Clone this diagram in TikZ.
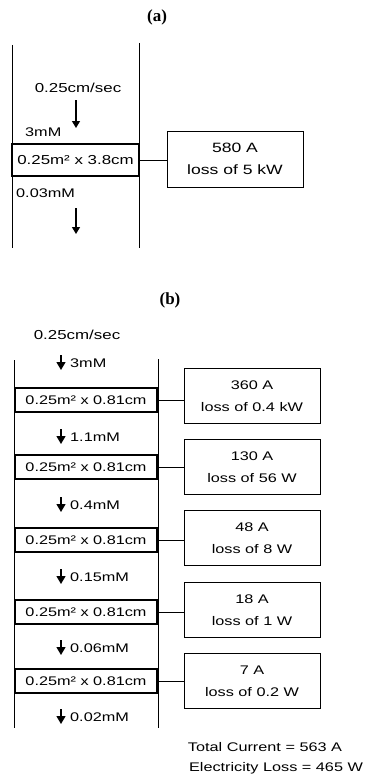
\documentclass[tikz,border=0pt]{standalone}
\usepackage{fontspec}
\setmainfont{Liberation Sans}[FakeStretch=1.3]
\newfontfamily\panelfont{Liberation Serif}
\usetikzlibrary{arrows.meta, positioning}
\newcommand{\diagfont}{\fontsize{12.5}{22}\selectfont}
\tikzset{
	wall/.style={line width=1pt},
	cell/.style={rectangle, draw=black, line width=1.7pt, minimum width=142pt, minimum height=24pt, inner sep=0pt, text centered, font=\diagfont},
	cellwide/.style={cell, minimum width=127pt, minimum height=32pt, font=\fontsize{13}{22}\selectfont},
	lossbox/.style={rectangle, draw=black, line width=1pt, minimum width=136pt, minimum height=55pt, inner sep=0pt, align=center, font=\diagfont},
	lossboxwide/.style={lossbox, minimum height=56pt, font=\fontsize{13.5}{22}\selectfont},
	link/.style={line width=1pt},
	flow/.style={-{Triangle[length=7pt, width=8pt]}, line width=1.2pt},
	flowshort/.style={-{Triangle[length=8pt, width=9pt]}, line width=1.3pt},
	conc/.style={anchor=west, inner sep=0pt, font=\diagfont},
	speed/.style={inner sep=0pt, font=\fontsize{13}{15}\selectfont},
	panel/.style={inner sep=0pt, font=\fontsize{17}{19}\selectfont\panelfont\bfseries},
	total/.style={inner sep=0pt, font=\fontsize{12.5}{15}\selectfont},
}
\begin{document}
\begin{tikzpicture}[x=1pt, y=-1pt]
	\useasboundingbox (0,0) rectangle (369,776);
	% (a) one thick cell
	\node[panel] (titleA) at (157,17) {(a)};
	\draw[wall] (12,45) -- (12,248);
	\draw[wall] (139,43) -- (139,248);
	\node[speed] (speedA) at (78,88) {0.25cm/sec};
	\coordinate (inAtop) at (76,100);
	\coordinate (inAtip) at (76,128);
	\draw[flow] (inAtop) -- (inAtip);
	\node[conc] (concA0) at (25,132) {3mM};
	\node[cellwide] (cellA) at (75.5,160) {0.25m² x 3.8cm};
	\node[lossboxwide] (lossA) at (235,159) {580 A\\loss of 5 kW};
	\draw[link] (cellA.east) -- (cellA.east -| lossA.west);
	\node[conc] (concA1) at (16,193) {0.03mM};
	\coordinate (outAtop) at (76,208);
	\coordinate (outAtip) at (76,234);
	\draw[flow] (outAtop) -- (outAtip);
	% (b) five thin cells in series
	\node[panel] (titleB) at (170,300) {(b)};
	\node[speed] (speedB) at (77,335) {0.25cm/sec};
	\draw[wall] (14,360) -- (14,728);
	\draw[wall] (158,359) -- (158,728);
	\foreach \i/\c/\v in {0/363/3mM, 1/437/1.1mM, 2/505/0.4mM, 3/577/0.15mM, 4/648/0.06mM, 5/717/0.02mM}{
		\coordinate (in\i top) at (61,\c-8);
		\coordinate (in\i tip) at (61,\c+7);
		\draw[flowshort] (in\i top) -- (in\i tip);
		\node[conc] (conc\i) at (70,\c) {\v};
	}
	\foreach \i/\y/\ly/\amp/\loss in {1/400/396/360 A/0.4 kW, 2/467/467/130 A/56 W, 3/540/538/48 A/8 W, 4/612/610/18 A/1 W, 5/681/681/7 A/0.2 W}{
		\node[cell] (cell\i) at (86,\y) {0.25m² x 0.81cm};
		\node[lossbox] (loss\i) at (252,\ly) {\amp\\loss of \loss};
		\draw[link] (cell\i.east) -- (cell\i.east -| loss\i.west);
	}
	\node[total] (totalI) at (265,747) {Total Current = 563 A};
	\node[total] (totalP) at (276,768) {Electricity Loss = 465 W};
\end{tikzpicture}
\end{document}
